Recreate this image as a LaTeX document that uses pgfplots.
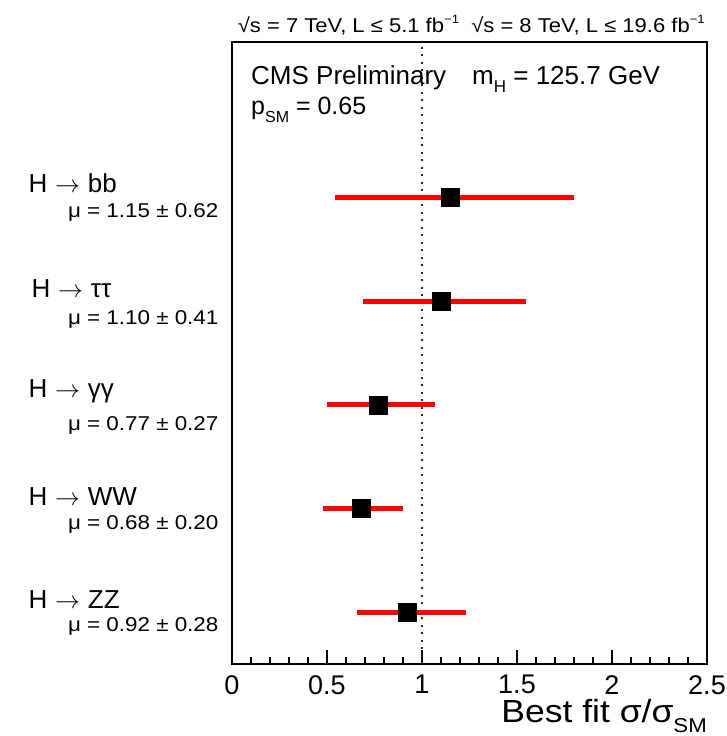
\documentclass[border=0pt]{standalone}
\usepackage{fontspec}
\setmainfont{Liberation Sans}
\usepackage{pgfplots}
\pgfplotsset{compat=1.18}
\newcommand\fs[1]{\fontsize{#1}{#1}\selectfont}
\newcommand\lo[2]{\raisebox{-0.3em}{\fs{#1}#2}}
\newcommand\hi[2]{\raisebox{0.45em}{\fs{#1}#2}}
\newcommand\arr{\hspace{0.3em}$\rightarrow$\hspace{0.3em}}
\pgfplotstableread{
x y em ep
1.15 5 0.61 0.65
1.10 4 0.41 0.45
0.77 3 0.27 0.30
0.68 2 0.20 0.22
0.92 1 0.26 0.31
}\mydata
\begin{document}
\begin{tikzpicture}
\path[use as bounding box] (-232pt,-72pt) rectangle (494pt,664pt);
\begin{axis}[at={(0,0)}, anchor=south west, scale only axis,
  width=475pt, height=622pt,
  xmin=0, xmax=2.5, ymin=0.5, ymax=6.5, clip=false,
  axis line style={line width=1.6pt},
  xtick={0,0.5,1,1.5,2,2.5}, minor x tick num=4,
  tick align=inside, xtick pos=bottom, ytick=\empty,
  major tick length=14pt, minor tick length=7pt,
  every tick/.style={black, line width=1.2pt},
  xticklabel style={font=\fs{27}, inner sep=0pt, yshift=-11pt},
  /pgf/number format/assume math mode=true,
]
\addplot[black!85, line width=2.5pt, dash pattern=on 2pt off 5.5pt] coordinates {(1,0.5) (1,6.5)};
\addplot[draw=none, mark=none, error bars/.cd, x dir=both, x explicit,
  error bar style={draw=red, line width=5pt}, error mark=none]
  table[x=x, y=y, x error minus=em, x error plus=ep] {\mydata};
\addplot[only marks, mark=square*, mark size=9pt, mark options={fill=black, draw=black}]
  table[x=x, y=y] {\mydata};

\node[anchor=base west, font=\fs{26}] at (axis cs:-1.089,5.048) {H\arr bb};
\node[anchor=base west, font=\fs{26}] at (axis cs:-1.073,4.036) {H\arr ττ};
\node[anchor=base west, font=\fs{26}] at (axis cs:-1.089,3.072) {H\arr γγ};
\node[anchor=base west, font=\fs{26}] at (axis cs:-1.089,2.031) {H\arr WW};
\node[anchor=base west, font=\fs{26}] at (axis cs:-1.089,1.039) {H\arr ZZ};

\node[anchor=base east, font=\fs{20}] at (axis cs:-0.053,4.807) {\scalebox{1.12}[1]{μ = 1.15 ± 0.62}};
\node[anchor=base east, font=\fs{20}] at (axis cs:-0.053,3.776) {\scalebox{1.12}[1]{μ = 1.10 ± 0.41}};
\node[anchor=base east, font=\fs{20}] at (axis cs:-0.053,2.754) {\scalebox{1.12}[1]{μ = 0.77 ± 0.27}};
\node[anchor=base east, font=\fs{20}] at (axis cs:-0.053,1.800) {\scalebox{1.12}[1]{μ = 0.68 ± 0.20}};
\node[anchor=base east, font=\fs{20}] at (axis cs:-0.053,0.817) {\scalebox{1.12}[1]{μ = 0.92 ± 0.28}};

\node[anchor=base west, font=\fs{20}, inner sep=0pt] at (axis cs:0.03,6.587)
  {\scalebox{1.1}[1]{√s = 7 TeV, L ≤ 5.1 fb\hi{12}{−1}\ \ √s = 8 TeV, L ≤ 19.6 fb\hi{12}{−1}}};
\node[anchor=base west, font=\fs{26}, inner sep=0pt] at (axis cs:0.1,6.086)
  {CMS Preliminary\quad m\lo{17}{H} = 125.7 GeV};
\node[anchor=base west, font=\fs{25}, inner sep=0pt] at (axis cs:0.1,5.796)
  {p\lo{16}{SM} = 0.65};
\node[anchor=base east, font=\fs{32}, inner sep=0pt] at (axis cs:2.5,-0.069)
  {\scalebox{1.11}[1]{Best fit σ/σ\lo{20}{SM}}};
\end{axis}
\end{tikzpicture}
\end{document}
